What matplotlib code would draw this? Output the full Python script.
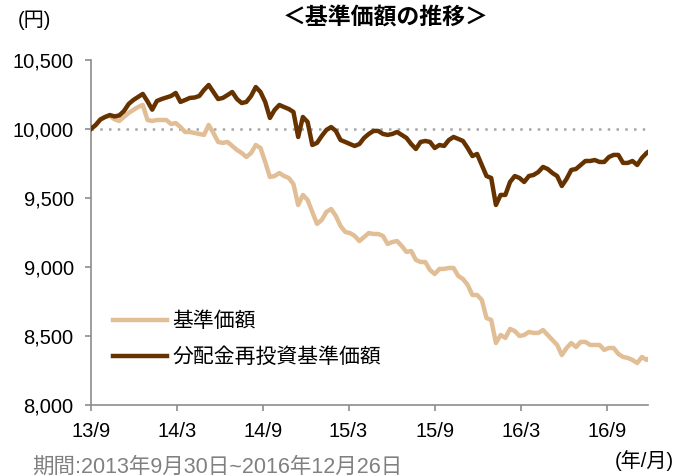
import pandas as pd
import matplotlib
matplotlib.use('Agg')
import matplotlib.pyplot as plt

plt.rcParams['font.family'] = ['Liberation Sans', 'Noto Sans CJK JP']

# sampling dates every 10 days, plus the last business day
dates = list(pd.date_range('2013-09-30', '2016-12-23', freq='10D')) + [pd.Timestamp('2016-12-26')]

# 分配金再投資基準価額
reinvested = [
    10000, 10029, 10069, 10087, 10101, 10091, 10098, 10130, 10181, 10210,
    10232, 10254, 10200, 10140, 10203, 10217, 10228, 10239, 10261, 10196,
    10210, 10225, 10228, 10239, 10283, 10319, 10268, 10217, 10225, 10246,
    10268, 10217, 10188, 10196, 10239, 10304, 10268, 10196, 10080, 10138,
    10174, 10159, 10145, 10123, 9942, 10087, 10051, 9884, 9899, 9949,
    9993, 10014, 9986, 9920, 9906, 9891, 9877, 9891, 9935, 9964,
    9986, 9986, 9964, 9957, 9964, 9978, 9957, 9935, 9891, 9855,
    9906, 9913, 9906, 9862, 9884, 9877, 9920, 9942, 9928, 9913,
    9862, 9804, 9819, 9739, 9659, 9645, 9449, 9522, 9522, 9616,
    9659, 9645, 9616, 9659, 9667, 9688, 9725, 9710, 9681, 9659,
    9587, 9638, 9703, 9710, 9739, 9768, 9768, 9775, 9761, 9761,
    9797, 9812, 9812, 9754, 9754, 9768, 9739, 9790, 9826, 9833,
]

# 基準価額
nav = [
    10000, 10029, 10069, 10087, 10095, 10070, 10058, 10087, 10116, 10138,
    10159, 10174, 10065, 10058, 10065, 10065, 10065, 10036, 10043, 10014,
    9978, 9978, 9971, 9964, 9957, 10029, 9971, 9906, 9899, 9906,
    9877, 9848, 9826, 9797, 9826, 9884, 9862, 9761, 9652, 9659,
    9681, 9659, 9645, 9601, 9449, 9522, 9486, 9399, 9312, 9341,
    9399, 9420, 9370, 9297, 9254, 9246, 9225, 9188, 9217, 9246,
    9239, 9239, 9225, 9167, 9181, 9188, 9152, 9109, 9116, 9051,
    9036, 9036, 8978, 8949, 8986, 8986, 8993, 8993, 8935, 8913,
    8870, 8797, 8797, 8761, 8630, 8616, 8449, 8507, 8486, 8551,
    8536, 8500, 8507, 8529, 8522, 8522, 8543, 8507, 8471, 8435,
    8362, 8413, 8449, 8420, 8457, 8457, 8435, 8435, 8435, 8399,
    8413, 8413, 8370, 8348, 8341, 8326, 8304, 8348, 8326, 8333,
]

tick_dates = ['2013-09-30', '2014-03-31', '2014-09-30', '2015-03-31',
              '2015-09-30', '2016-03-31', '2016-09-30']
tick_labels = ['13/9', '14/3', '14/9', '15/3', '15/9', '16/3', '16/9']
y_ticks = [8000, 8500, 9000, 9500, 10000, 10500]

fig = plt.figure(figsize=(6.76, 4.76), dpi=100)
ax = fig.add_axes([0.1346, 0.1492, 0.8240, 0.7248])

ax.axhline(10000, color='#A6A6A6', linestyle=(0, (1, 2.5)), linewidth=1.8, zorder=1)
ax.plot(dates, nav, color='#E2BE96', linewidth=3.2, label='基準価額', zorder=2)
ax.plot(dates, reinvested, color='#663300', linewidth=3.2, label='分配金再投資基準価額', zorder=3)

ax.set_xlim(dates[0], dates[-1])
ax.set_ylim(8000, 10500)
ax.set_yticks(y_ticks)
ax.set_yticklabels([f'{v:,}' for v in y_ticks])
ax.set_xticks([pd.Timestamp(d) for d in tick_dates])
ax.set_xticklabels(tick_labels)

for side in ['top', 'right']:
    ax.spines[side].set_visible(False)
for side in ['left', 'bottom']:
    ax.spines[side].set_color('#8C8C8C')
    ax.spines[side].set_linewidth(1.2)
ax.tick_params(axis='both', colors='#8C8C8C', labelcolor='black', labelsize=14.5,
               length=4.5, width=1.2, direction='out')
ax.tick_params(axis='x', pad=8)
ax.tick_params(axis='y', pad=8)

ax.legend(loc='center left', bbox_to_anchor=(0.04, 0.19), frameon=False,
          fontsize=15, handlelength=2.6, labelspacing=0.8, handletextpad=0.25,
          borderpad=0, borderaxespad=0)

fig.text(0.026, 0.958, '(円)', fontsize=14.5, va='center', ha='left')
fig.text(0.570, 0.962, '＜基準価額の推移＞', fontsize=16.5, fontweight='bold', va='center', ha='center')
fig.text(0.997, 0.032, '(年/月)', fontsize=14.5, va='center', ha='right')
fig.text(0.047, 0.019, '期間:2013年9月30日~2016年12月26日', fontsize=15.5, color='#808080',
         va='center', ha='left')

fig.savefig('out.png', dpi=100)
